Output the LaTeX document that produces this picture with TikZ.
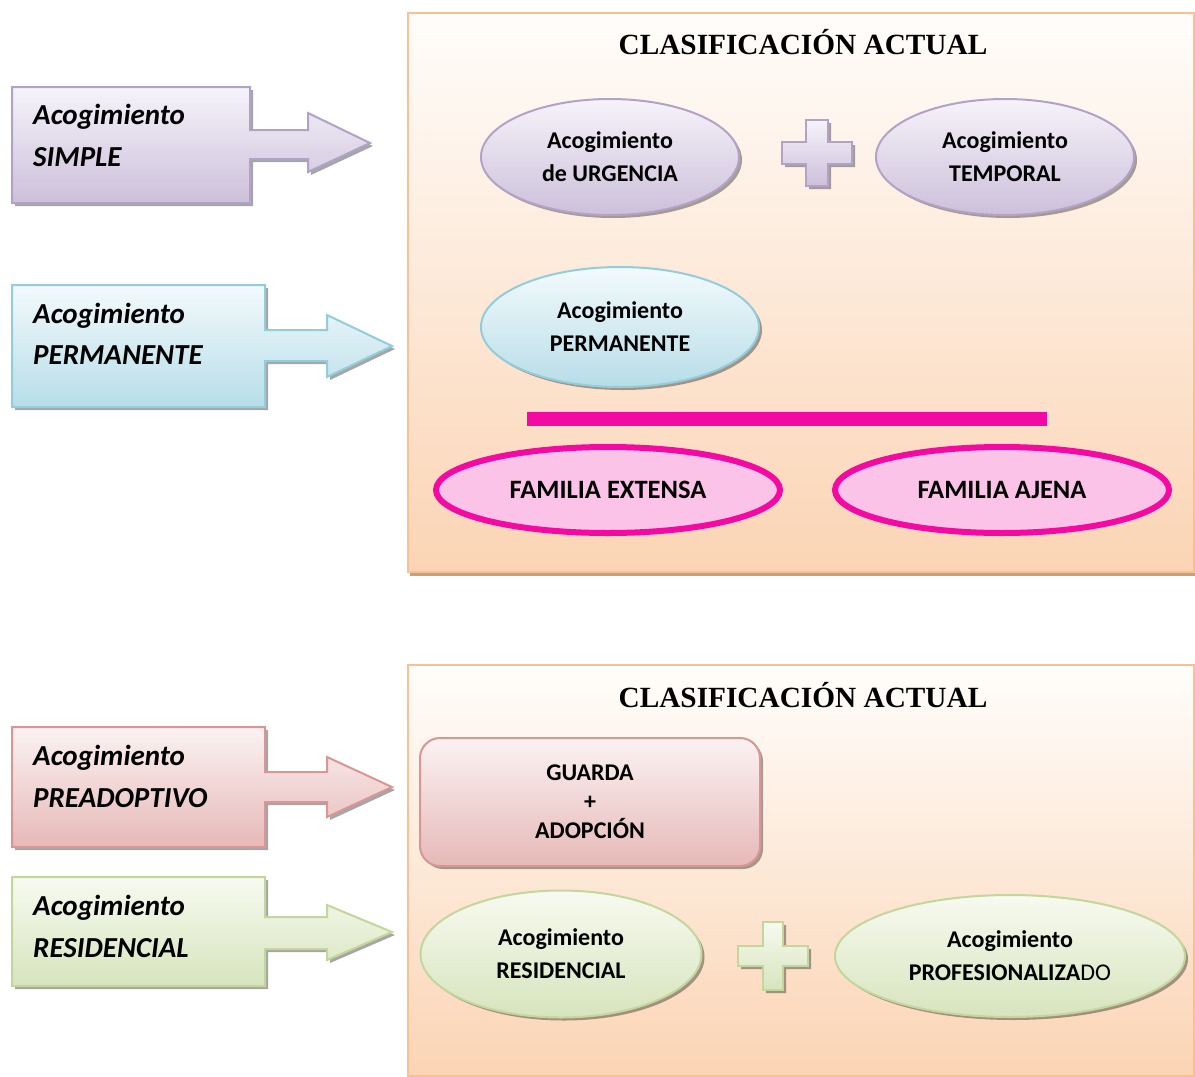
\documentclass[tikz,border=0pt]{standalone}
\usepackage{fontspec}
\setmainfont{Carlito}
\newfontfamily\titlefont{Liberation Serif}
\usetikzlibrary{shapes.geometric,shadows}
\definecolor{lavT}{HTML}{F6F3FA}
\definecolor{lavB}{HTML}{CCC0DA}
\definecolor{lavD}{HTML}{B3A2C7}
\definecolor{bluT}{HTML}{F3FAFC}
\definecolor{bluB}{HTML}{B7DDE8}
\definecolor{bluD}{HTML}{92CDDC}
\definecolor{redT}{HTML}{FBF2F2}
\definecolor{redB}{HTML}{E6B9B8}
\definecolor{redD}{HTML}{D99694}
\definecolor{grnT}{HTML}{F7FAF0}
\definecolor{grnB}{HTML}{D7E4BD}
\definecolor{grnD}{HTML}{C3D69B}
\definecolor{peachT}{HTML}{FFFDFB}
\definecolor{peachB}{HTML}{FBD4B4}
\definecolor{peachD}{HTML}{FAC090}
\definecolor{tanS}{HTML}{C9A07E}
\definecolor{mag}{HTML}{F20AA3}
\definecolor{magL}{HTML}{FCC3E8}
\tikzset{
  shad/.style={drop shadow={shadow xshift=3pt,shadow yshift=-3pt,fill=black,opacity=0.35}},
  panel/.style={draw=peachD,line width=2pt,top color=peachT,bottom color=peachB,
    drop shadow={shadow xshift=2pt,shadow yshift=-4pt,fill=tanS,opacity=1}},
  lavshape/.style={draw=lavD,line width=2pt,top color=lavT,bottom color=lavB,shad},
  blushape/.style={draw=bluD,line width=2pt,top color=bluT,bottom color=bluB,shad},
  redshape/.style={draw=redD,line width=2pt,top color=redT,bottom color=redB,shad},
  grnshape/.style={draw=grnD,line width=2pt,top color=grnT,bottom color=grnB,shad},
  lefttxt/.style={anchor=west,inner sep=0pt,font=\fontsize{29}{34}\selectfont\bfseries\itshape},
  elltxt/.style={ellipse,inner sep=0pt,align=center,font=\fontsize{24}{33}\selectfont\bfseries},
  famtxt/.style={ellipse,inner sep=0pt,align=center,draw=mag,line width=6pt,fill=magL,
    font=\fontsize{26.5}{30}\selectfont\bfseries},
  titletxt/.style={inner sep=0pt,font=\titlefont\bfseries\fontsize{29.3}{34}\selectfont}
}
\begin{document}
\begin{tikzpicture}[x=1pt,y=-1pt]
\useasboundingbox (0,0) rectangle (1195,1077);
\fill[white] (0,0) rectangle (1195,1077);

% panels
\path[panel] (408,13) rectangle (1194,572);
\path[panel] (408,665) rectangle (1194,1076);
\node[titletxt] (title1) at (803,42) {CLASIFICACIÓN ACTUAL};
\node[titletxt] (title2) at (803,695) {CLASIFICACIÓN ACTUAL};

% left arrows
\path[lavshape] (12,87) -- (250,87) -- (250,130) -- (308,130) -- (308,113) -- (370,143)
  -- (308,172) -- (308,159) -- (250,159) -- (250,203) -- (12,203) -- cycle;
\node[lefttxt] (simpleA) at (33,117) {Acogimiento};
\node[lefttxt] (simpleB) at (33,157) {SIMPLE};

\path[blushape] (12,285) -- (265,285) -- (265,330) -- (327,330) -- (327,315) -- (392,346)
  -- (327,377) -- (327,361) -- (265,361) -- (265,407) -- (12,407) -- cycle;
\node[lefttxt] (permA) at (33,316) {Acogimiento};
\node[lefttxt] (permB) at (33,355) {PERMANENTE};

\path[redshape] (12,727) -- (265,727) -- (265,772) -- (327,772) -- (327,757) -- (392,787)
  -- (327,817) -- (327,802) -- (265,802) -- (265,847) -- (12,847) -- cycle;
\node[lefttxt] (preA) at (33,758) {Acogimiento};
\node[lefttxt] (preB) at (33,798) {PREADOPTIVO};

\path[grnshape] (12,877) -- (265,877) -- (265,917) -- (327,917) -- (327,905) -- (392,932)
  -- (327,960) -- (327,949) -- (265,949) -- (265,986) -- (12,986) -- cycle;
\node[lefttxt] (resA) at (33,908) {Acogimiento};
\node[lefttxt] (resB) at (33,948) {RESIDENCIAL};

% top panel content
\node[elltxt,lavshape,minimum width=258pt,minimum height=116pt] (urg) at (610,157)
  {Acogimiento\\de URGENCIA};
\node[elltxt,lavshape,minimum width=258pt,minimum height=116pt] (temp) at (1005,157)
  {Acogimiento\\TEMPORAL};
\path[lavshape] (782,142) -- (806,142) -- (806,120) -- (828,120) -- (828,142) -- (852,142)
  -- (852,164) -- (828,164) -- (828,186) -- (806,186) -- (806,164) -- (782,164) -- cycle;
\node[elltxt,blushape,minimum width=278pt,minimum height=120pt] (perm) at (620,327)
  {Acogimiento\\PERMANENTE};
\fill[mag] (527,412) rectangle (1047,426);
\node[famtxt,minimum width=344pt,minimum height=86pt] (ext) at (608,490) {FAMILIA EXTENSA};
\node[famtxt,minimum width=334pt,minimum height=86pt] (ajena) at (1002,490) {FAMILIA AJENA};

% bottom panel content
\node[redshape,rounded corners=20pt,minimum width=340pt,minimum height=128pt,inner sep=0pt,
  align=center,font=\fontsize{24}{29}\selectfont\bfseries] (guarda) at (590,802)
  {GUARDA\\+\\ADOPCIÓN};
\node[elltxt,grnshape,minimum width=281pt,minimum height=127pt] (resid) at (561,954)
  {Acogimiento\\RESIDENCIAL};
\path[grnshape] (738,946) -- (763,946) -- (763,922) -- (783,922) -- (783,946) -- (808,946)
  -- (808,966) -- (783,966) -- (783,990) -- (763,990) -- (763,966) -- (738,966) -- cycle;
\node[elltxt,grnshape,minimum width=350pt,minimum height=122pt] (prof) at (1010,956)
  {Acogimiento\\PROFESIONALIZA{\mdseries DO}};
\end{tikzpicture}
\end{document}
